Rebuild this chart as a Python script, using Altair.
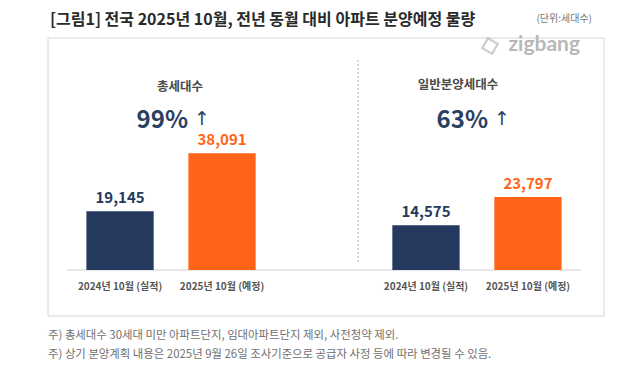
import altair as alt
import pandas as pd

groups = ["총세대수", "총세대수", "일반분양세대수", "일반분양세대수"]
periods = ["2024년 10월 (실적)", "2025년 10월 (예정)", "2024년 10월 (실적)", "2025년 10월 (예정)"]
values = [19145, 38091, 14575, 23797]
kinds = ["실적", "예정", "실적", "예정"]

group_titles = ["총세대수", "일반분양세대수"]
group_changes = ["99%", "63%"]
arrow = "↑"

title_text = "[그림1] 전국 2025년 10월, 전년 동월 대비 아파트 분양예정 물량"
unit_text = "(단위:세대수)"
notes = [
    "주) 총세대수 30세대 미만 아파트단지, 임대아파트단지 제외, 사전청약 제외.",
    "주) 상기 분양계획 내용은 2025년 9월 26일 조사기준으로 공급자 사정 등에 따라 변경될 수 있음.",
]

keys = [f"{g}|{p}" for g, p in zip(groups, periods)]
domain = keys[:2] + ["gap"] + keys[2:]

df = pd.DataFrame({"key": keys, "group": groups, "period": periods,
                   "value": values, "kind": kinds})
df["label"] = df["value"].map(lambda v: f"{v:,}")

FONT = "Noto Sans CJK KR"
NAVY = "#253a5e"
ORANGE = "#ff6418"
ORANGE_TXT = "#f07d3c"
PCT = "#2b3f63"

x = alt.X("key:N", scale=alt.Scale(domain=domain, paddingInner=0.34, paddingOuter=0.19), axis=None)
y = alt.Y("value:Q", scale=alt.Scale(domain=[0, 75000]), axis=None)

W, H = 514, 230

base = alt.Chart(df)

box = alt.Chart(pd.DataFrame({"a": [0]})).mark_rect(
    fill=None, stroke="#d6d6d6", strokeWidth=1
).encode(x=alt.value(-19), x2=alt.value(537), y=alt.value(-2), y2=alt.value(276))

bars = base.mark_bar().encode(
    x=x, y=y,
    color=alt.Color("kind:N", scale=alt.Scale(domain=["실적", "예정"], range=[NAVY, ORANGE]), legend=None),
)

vals = base.mark_text(baseline="alphabetic", dy=-8, fontSize=15, fontWeight="bold", font=FONT).encode(
    x=x, y=y, text="label:N",
    color=alt.Color("kind:N", scale=alt.Scale(domain=["실적", "예정"], range=[NAVY, ORANGE_TXT]), legend=None),
)

cats = base.mark_text(baseline="middle", fontSize=10, fontWeight="bold", font=FONT, color="#555555").encode(
    x=x, y=alt.value(247), text="period:N"
)

baseline_rule = alt.Chart(pd.DataFrame({"a": [0]})).mark_rule(color="#cfcfcf", strokeWidth=1).encode(
    x=alt.value(0), x2=alt.value(W), y=alt.value(H)
)

sep = alt.Chart(pd.DataFrame({"a": [0]})).mark_rule(color="#b5b5b5", strokeWidth=1, strokeDash=[2, 2]).encode(
    x=alt.value(291), y=alt.value(20), y2=alt.value(222)
)

gdf = pd.DataFrame({"t": group_titles, "c": group_changes, "a": [arrow, arrow]})
t1 = alt.Chart(gdf.iloc[[0]]).mark_text(fontSize=12.5, fontWeight="bold", font=FONT, color="#4a4a4a").encode(
    x=alt.value(113), y=alt.value(47), text="t:N")
t2 = alt.Chart(gdf.iloc[[1]]).mark_text(fontSize=12.5, fontWeight="bold", font=FONT, color="#4a4a4a").encode(
    x=alt.value(391), y=alt.value(45), text="t:N")
c1 = alt.Chart(gdf.iloc[[0]]).mark_text(align="right", fontSize=24, fontWeight="bold", font=FONT, color=PCT).encode(
    x=alt.value(121), y=alt.value(81), text="c:N")
c2 = alt.Chart(gdf.iloc[[1]]).mark_text(align="right", fontSize=24, fontWeight="bold", font=FONT, color=PCT).encode(
    x=alt.value(421), y=alt.value(81), text="c:N")
a1 = alt.Chart(gdf.iloc[[0]]).mark_text(align="left", fontSize=19, fontWeight="normal", font="DejaVu Sans", color=PCT).encode(
    x=alt.value(127), y=alt.value(79), text="a:N")
a2 = alt.Chart(gdf.iloc[[1]]).mark_text(align="left", fontSize=19, fontWeight="normal", font="DejaVu Sans", color=PCT).encode(
    x=alt.value(427), y=alt.value(79), text="a:N")

title = alt.Chart(pd.DataFrame({"t": [title_text]})).mark_text(
    align="left", baseline="middle", fontSize=16, fontWeight="bold", font=FONT, color="#2a2a2a"
).encode(x=alt.value(-17), y=alt.value(-20), text="t:N")

unit = alt.Chart(pd.DataFrame({"t": [unit_text]})).mark_text(
    align="right", baseline="middle", fontSize=10, font=FONT, color="#777777"
).encode(x=alt.value(525), y=alt.value(-21), text="t:N")

logo = alt.Chart(pd.DataFrame({"t": ["zigbang"]})).mark_text(
    align="right", baseline="middle", fontSize=21, fontWeight="bold", font="Lato", color="#b8b8b8"
).encode(x=alt.value(513), y=alt.value(5), text="t:N")

icon = alt.Chart(pd.DataFrame({"t": [0]})).mark_point(
    shape="square", size=130, angle=30, filled=False, stroke="#b8b8b8", strokeWidth=2.2
).encode(x=alt.value(423), y=alt.value(6))

ndf = pd.DataFrame({"t": notes, "i": [0, 1]})
note1 = alt.Chart(ndf.iloc[[0]]).mark_text(
    align="left", baseline="middle", fontSize=11.4, font=FONT, color="#707070"
).encode(x=alt.value(-19), y=alt.value(296), text="t:N")
note2 = alt.Chart(ndf.iloc[[1]]).mark_text(
    align="left", baseline="middle", fontSize=11.4, font=FONT, color="#707070"
).encode(x=alt.value(-19), y=alt.value(315), text="t:N")

chart = alt.layer(
    box, baseline_rule, sep, bars, vals, cats, t1, t2, c1, c2, a1, a2, title, unit, logo, icon, note1, note2
).properties(
    width=W, height=H,
    autosize=alt.AutoSizeParams(type="none"),
    padding={"left": 59, "top": 32, "right": 29, "bottom": 90},
).configure_view(stroke=None)

chart.save("out.html", embed_options={"renderer": "svg", "actions": False})
